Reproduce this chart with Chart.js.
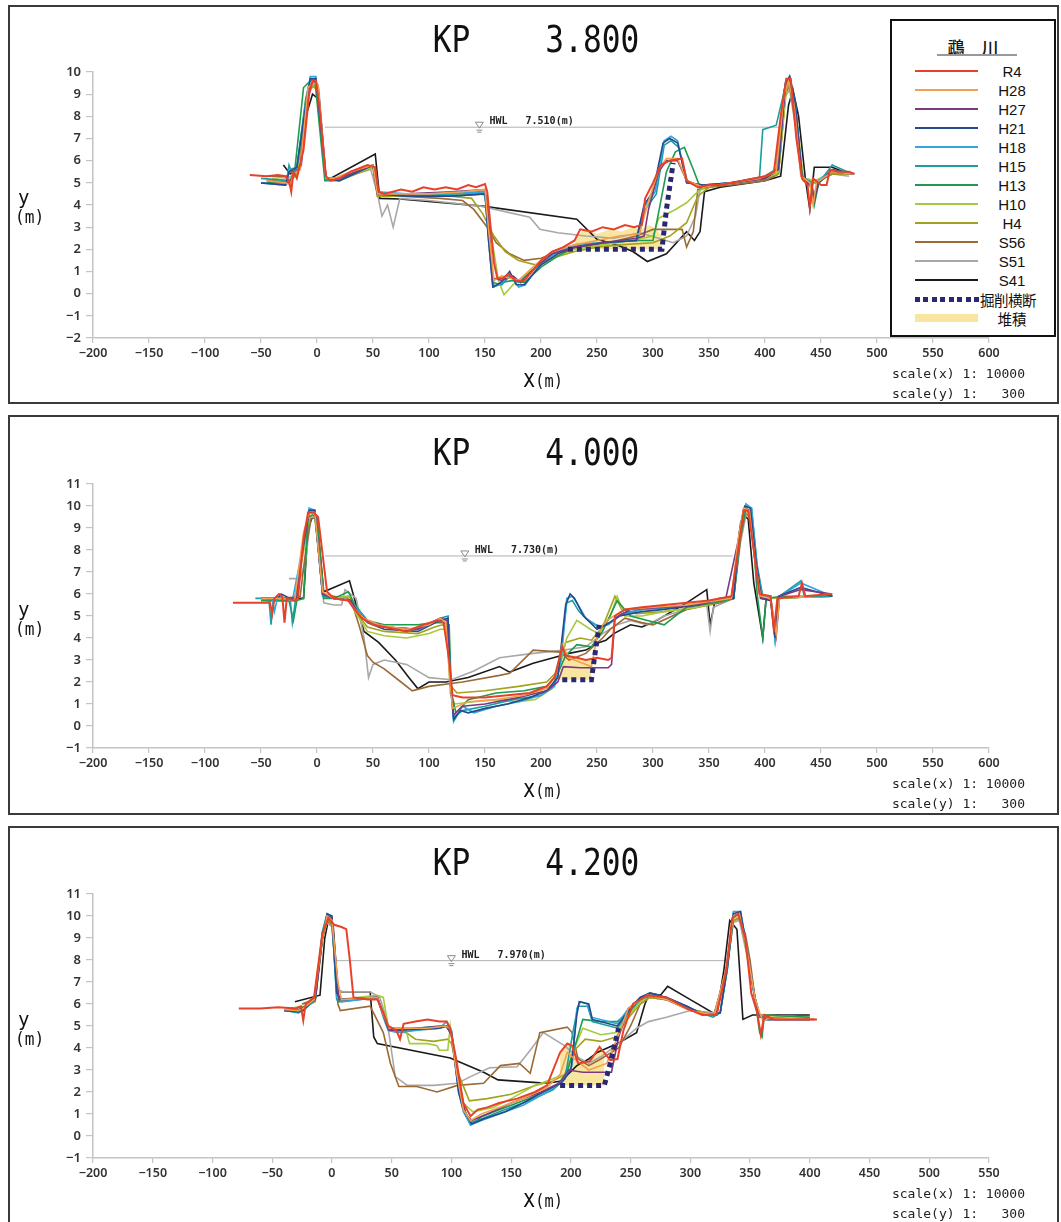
<!DOCTYPE html>
<html><head><meta charset="utf-8">
<script src="https://cdn.jsdelivr.net/npm/chart.js@4.4.0/dist/chart.umd.min.js"></script>
<style>
body{margin:0;background:#fff;width:1061px;height:1222px;position:relative;overflow:hidden;font-family:'Noto Sans',sans-serif;}
.panel{position:absolute;left:8px;width:1051px;border:2px solid #3a3a3a;box-sizing:border-box;}
canvas{position:absolute;left:0;}
.title{position:absolute;font-family:'DejaVu Sans Mono',monospace;font-size:38px;white-space:pre;transform:translate(-50%,-50%) scaleX(0.82);color:#111;line-height:1;}
.xl{position:absolute;font-family:'DejaVu Sans Mono',monospace;color:#111;white-space:pre;transform:translate(-50%,-50%) scaleX(0.85);line-height:1;}
.yl{position:absolute;font-family:'DejaVu Sans Mono',monospace;color:#111;white-space:pre;line-height:1;}
.sc{position:absolute;right:36px;font-family:'DejaVu Sans Mono',monospace;font-size:13px;color:#222;white-space:pre;line-height:1;transform:translateY(-50%);}
#legend{position:absolute;left:890px;top:19px;width:166px;height:318px;border:2px solid #111;background:#fff;box-sizing:border-box;z-index:5;}
#legend .row{position:absolute;left:0;width:166px;height:19px;}
#legend .smp{position:absolute;left:23px;width:63px;top:8px;height:2px;}
#legend .lab{position:absolute;left:86px;width:68px;text-align:center;top:0;font-family:'Liberation Sans',Arial,sans-serif;font-size:15px;line-height:19px;color:#111;}
</style></head>
<body>
<div class="panel" style="top:5px;height:399px;"></div>
<div class="panel" style="top:415px;height:400px;"></div>
<div class="panel" style="top:826px;height:410px;"></div>

<canvas id="c1" width="1061" height="400" style="top:0px"></canvas>
<canvas id="c2" width="1061" height="400" style="top:410px"></canvas>
<canvas id="c3" width="1061" height="402" style="top:820px"></canvas>

<div id="texts"></div>
<div id="legend"></div>

<script>
// ---------- categories / labels ----------
const seriesNames = ['R4','H28','H27','H21','H18','H15','H13','H10','H4','S56','S51','S41'];
const extraNames = ['掘削横断','堆積'];
const riverName = '鵡　川';
const kpLabels = ['KP    3.800','KP    4.000','KP    4.200'];
const hwlLevels = [7.51, 7.73, 7.97];
const hwlTexts = ['HWL   7.510(m)','HWL   7.730(m)','HWL   7.970(m)'];
const hwlMarkX = [145, 132, 100];
const hwlSpan = [[7,413],[7,371],[4,329]];
const xRanges = [[-200,600],[-200,600],[-200,550]];
const yRanges = [[-2,10],[-1,11],[-1,11]];
const scaleTexts = ['scale(x) 1: 10000','scale(y) 1:   300'];

// ---------- KP 3.800 ----------
const p1_R4 = [[-60,5.35],[-45,5.3],[-35,5.35],[-28,5.3],[-25,5.1],[-23,4.6],[-21,5.5],[-18,5.2],[-12,6.5],[-7,9.0],[-4,9.6],[-1,9.6],[2,8.5],[8,5.3],[12,5.1],[20,5.2],[30,5.5],[45,5.8],[52,5.7],[55,4.6],[60,4.5],[75,4.7],[85,4.6],[95,4.8],[105,4.7],[115,4.8],[125,4.7],[135,4.9],[142,4.8],[150,4.95],[152,4.6],[155,3.0],[158,1.4],[161,0.7],[166,0.7],[171,0.9],[177,0.6],[184,0.55],[192,1.0],[200,1.5],[210,1.9],[220,2.1],[230,2.4],[235,2.9],[245,2.8],[255,3.0],[265,2.9],[275,3.1],[283,3.0],[290,3.1],[293,4.3],[300,5.0],[307,5.8],[315,6.0],[326,6.1],[330,5.1],[340,4.8],[350,4.9],[360,4.9],[370,5.0],[380,5.1],[390,5.2],[400,5.3],[408,5.5],[414,8.0],[419,9.7],[423,9.7],[428,7.0],[433,5.2],[438,4.9],[440,3.9],[443,5.2],[450,4.9],[455,4.9],[458,5.6],[465,5.5],[475,5.5],[480,5.4]];
const p1_H28 = [[-45,5.1],[-28,5.0],[-24,4.9],[-21,5.4],[-15,5.6],[-8,9.3],[-3,9.5],[1,9.4],[8,5.2],[15,5.2],[30,5.5],[50,5.8],[54,4.5],[70,4.5],[100,4.5],[130,4.6],[150,4.7],[153,3.0],[158,0.6],[165,0.8],[172,0.7],[180,0.6],[195,1.3],[210,1.9],[230,2.2],[250,2.4],[270,2.6],[288,2.7],[295,4.0],[305,5.6],[312,6.1],[322,6.1],[330,5.1],[345,4.8],[370,5.0],[395,5.2],[410,5.5],[417,9.0],[421,9.6],[426,8.5],[432,5.3],[440,5.0],[443,4.0],[446,5.0],[460,5.5],[478,5.4]];
const p1_H27 = [[-45,5.1],[-25,5.0],[-20,5.4],[-14,5.8],[-8,9.2],[-3,9.6],[1,9.4],[8,5.2],[20,5.2],[50,5.8],[54,4.5],[80,4.5],[120,4.6],[150,4.7],[153,3.5],[157,0.7],[165,0.6],[175,0.8],[182,0.5],[195,1.2],[210,1.8],[230,2.1],[255,2.3],[285,2.5],[292,2.6],[296,3.8],[305,5.5],[312,6.0],[322,6.0],[330,5.1],[345,4.8],[370,5.0],[400,5.2],[411,5.6],[418,9.2],[422,9.7],[427,8.2],[433,5.2],[441,4.9],[444,4.2],[447,5.0],[460,5.5],[478,5.4]];
const p1_H21 = [[-50,5.0],[-28,4.9],[-25,5.5],[-18,5.7],[-10,8.5],[-6,9.7],[-1,9.7],[8,5.2],[20,5.1],[50,5.8],[54,4.5],[80,4.4],[120,4.4],[150,4.5],[153,2.5],[157,0.3],[164,0.5],[172,1.0],[178,0.4],[185,0.4],[200,1.3],[215,1.8],[230,2.1],[255,2.3],[285,2.4],[292,4.0],[300,4.6],[309,6.8],[315,7.0],[322,6.8],[330,5.0],[345,4.9],[370,5.0],[400,5.2],[412,5.6],[418,9.4],[422,9.8],[427,8.6],[433,5.3],[441,4.8],[444,4.3],[448,5.0],[460,5.6],[478,5.4]];
const p1_H18 = [[-50,5.0],[-28,4.9],[-25,5.6],[-18,5.7],[-10,8.5],[-6,9.8],[-1,9.8],[8,5.2],[20,5.1],[50,5.8],[54,4.6],[80,4.5],[120,4.5],[150,4.6],[153,2.5],[157,0.3],[163,0.4],[172,0.9],[180,0.3],[186,0.4],[200,1.4],[215,1.9],[230,2.2],[255,2.3],[285,2.4],[292,3.9],[302,4.6],[310,6.9],[316,7.1],[322,6.9],[330,5.0],[345,4.9],[370,5.0],[400,5.3],[412,5.7],[418,9.5],[422,9.8],[427,8.6],[433,5.3],[441,4.9],[444,4.4],[448,5.1],[460,5.6],[478,5.4]];
const p1_H15 = [[-50,5.2],[-27,5.1],[-25,5.8],[-22,5.4],[-18,5.7],[-10,8.8],[-6,9.7],[-1,9.6],[8,5.1],[20,5.1],[50,5.8],[54,4.5],[80,4.4],[120,4.4],[150,4.5],[153,2.8],[157,0.5],[165,0.4],[172,0.8],[180,0.5],[200,1.4],[215,1.9],[230,2.2],[255,2.3],[286,2.4],[293,3.8],[303,4.5],[310,6.7],[316,6.9],[323,6.6],[331,5.0],[345,4.9],[370,5.0],[395,5.2],[398,7.4],[410,7.6],[418,9.3],[422,9.7],[427,8.6],[433,5.3],[441,5.0],[444,4.5],[448,5.0],[460,5.8],[478,5.4]];
const p1_H13 = [[-45,5.0],[-25,5.0],[-20,5.5],[-12,9.3],[-6,9.6],[-2,9.7],[7,5.1],[20,5.2],[50,5.8],[54,4.5],[80,4.5],[120,4.5],[150,4.6],[153,2.8],[158,0.3],[165,0.5],[175,0.6],[185,0.5],[200,1.2],[215,1.7],[230,2.1],[255,2.3],[285,2.4],[300,2.4],[304,3.4],[312,5.5],[320,6.4],[328,6.6],[336,5.6],[342,4.8],[370,5.0],[400,5.3],[410,5.6],[417,9.2],[421,9.6],[427,8.4],[433,5.2],[441,4.9],[444,4.0],[448,5.0],[460,5.5],[478,5.4]];
const p1_H10 = [[-40,5.2],[-25,5.1],[-18,5.5],[-10,8.8],[-5,9.5],[0,9.3],[8,5.2],[20,5.2],[50,5.7],[54,4.5],[80,4.4],[120,4.5],[146,4.5],[152,4.4],[156,2.5],[162,0.6],[167,-0.05],[175,0.4],[190,1.0],[210,1.6],[230,2.0],[255,2.2],[280,2.4],[300,2.6],[305,3.4],[320,3.8],[330,4.1],[340,4.6],[350,4.9],[370,5.0],[400,5.2],[412,5.5],[419,9.3],[423,9.6],[428,8.0],[434,5.2],[445,5.1],[460,5.5],[475,5.4]];
const p1_H4 = [[-40,5.1],[-25,5.0],[-18,5.4],[-10,8.6],[-5,9.4],[0,9.2],[8,5.2],[20,5.1],[50,5.7],[54,4.4],[80,4.4],[120,4.4],[138,4.3],[148,3.6],[158,2.6],[168,1.9],[180,1.5],[195,1.3],[210,1.6],[230,1.9],[250,2.1],[270,2.2],[300,2.3],[315,2.6],[330,3.2],[340,4.4],[350,4.8],[370,5.0],[400,5.2],[412,5.4],[419,9.2],[423,9.5],[428,8.0],[434,5.1],[445,5.0],[460,5.4],[475,5.4]];
const p1_S56 = [[-45,5.3],[-27,5.3],[-24,5.5],[-15,5.8],[-8,9.3],[-3,9.5],[1,9.3],[8,5.2],[20,5.2],[50,5.7],[54,4.4],[75,4.4],[110,4.3],[130,4.2],[140,3.8],[152,3.0],[160,2.3],[172,1.8],[185,1.5],[200,1.6],[215,1.9],[235,2.1],[260,2.3],[285,2.6],[300,2.9],[326,2.9],[330,2.1],[336,2.8],[340,4.7],[350,4.8],[370,4.9],[400,5.1],[412,5.4],[418,9.0],[422,9.4],[428,7.5],[434,5.2],[445,5.0],[460,5.4],[475,5.4]];
const p1_S51 = [[-40,5.3],[-26,5.2],[-15,5.6],[-8,9.0],[-3,9.4],[2,9.0],[8,5.2],[20,5.2],[48,5.6],[54,4.5],[58,3.5],[63,4.0],[68,3.0],[74,4.3],[100,4.2],[146,3.95],[190,3.45],[199,2.9],[215,2.75],[240,2.6],[265,2.5],[288,2.75],[305,2.5],[318,2.3],[330,2.6],[338,3.5],[342,4.7],[360,4.9],[400,5.1],[412,5.4],[418,8.9],[422,9.2],[428,7.3],[434,5.2],[445,5.1],[460,5.4],[475,5.3]];
const p1_S41 = [[-30,5.8],[-24,5.4],[-18,5.6],[-10,8.0],[-4,9.0],[1,8.8],[8,5.2],[12,5.2],[52,6.3],[56,4.3],[74,4.27],[148,3.95],[232,3.36],[250,2.45],[268,2.2],[282,1.9],[295,1.45],[312,1.8],[330,2.8],[337,2.4],[342,2.8],[346,4.6],[360,4.8],[400,5.1],[414,5.3],[421,8.5],[425,9.2],[430,8.0],[436,5.2],[440,3.8],[444,5.7],[460,5.7],[470,5.5]];
const p1_cut = [[224,2.0],[308,2.0],[312,3.8],[318,5.9]];
const p1_dep = [[228,2.0],[232,2.5],[238,2.9],[250,2.7],[262,2.9],[272,2.8],[282,3.0],[290,2.9],[297,3.1],[303,2.9],[308,2.6],[308,2.0]];

// ---------- KP 4.000 ----------
const p2_R4 = [[-75,5.6],[-42,5.6],[-40,5.1],[-38,5.8],[-34,6.0],[-31,5.9],[-29,4.7],[-27,5.8],[-20,5.7],[-17,5.8],[-12,8.5],[-8,9.7],[-3,9.7],[1,9.5],[9,6.1],[15,5.8],[28,5.7],[32,5.4],[40,4.9],[50,4.6],[60,4.5],[80,4.3],[95,4.6],[108,4.8],[113,4.7],[118,3.0],[121,1.4],[130,1.3],[150,1.3],[170,1.4],[190,1.5],[205,1.8],[212,2.2],[216,3.0],[219,3.6],[222,3.2],[232,3.1],[240,3.0],[250,3.1],[260,3.0],[263,3.1],[266,5.0],[275,5.3],[290,5.4],[310,5.5],[330,5.6],[350,5.7],[370,5.9],[376,8.0],[381,9.8],[385,9.8],[390,8.0],[395,6.0],[405,5.9],[408,4.3],[411,5.8],[430,5.9],[433,6.5],[436,5.9],[460,6.0]];
const p2_H28 = [[-50,5.8],[-30,5.8],[-20,5.7],[-12,8.8],[-7,9.7],[-2,9.7],[5,6.1],[15,5.8],[28,5.7],[34,5.3],[42,4.9],[55,4.6],[80,4.4],[100,4.6],[110,4.9],[115,4.7],[118,2.5],[121,0.8],[135,1.1],[160,1.2],[185,1.4],[205,1.7],[213,2.3],[219,3.7],[225,3.1],[235,2.9],[245,2.7],[250,4.0],[255,4.6],[262,4.9],[275,5.3],[300,5.4],[330,5.5],[355,5.7],[370,5.8],[376,8.5],[381,9.9],[386,9.8],[391,7.5],[396,5.9],[405,5.8],[410,4.2],[413,5.8],[430,5.9],[460,6.0]];
const p2_H27 = [[-50,5.8],[-25,5.8],[-18,5.8],[-12,8.5],[-7,9.7],[-2,9.7],[5,6.0],[15,5.8],[30,5.7],[36,5.2],[45,4.8],[60,4.5],[90,4.4],[110,4.9],[116,4.8],[119,2.0],[122,0.5],[130,0.9],[150,1.0],[180,1.3],[205,1.6],[215,2.0],[220,2.7],[235,2.65],[260,2.65],[263,2.8],[266,4.9],[280,5.3],[310,5.4],[340,5.5],[365,5.8],[376,8.4],[381,9.9],[386,9.8],[391,7.6],[396,5.8],[405,5.8],[410,4.1],[413,5.9],[432,6.2],[460,6.0]];
const p2_H21 = [[-50,5.8],[-35,5.8],[-32,6.0],[-20,5.7],[-12,8.2],[-7,9.8],[-2,9.8],[5,6.0],[15,5.8],[30,5.7],[36,5.2],[45,4.7],[60,4.4],[90,4.3],[110,4.8],[117,4.9],[119,2.0],[122,0.3],[128,0.7],[135,0.6],[150,0.8],[170,1.0],[190,1.3],[205,1.6],[215,2.2],[222,5.5],[226,6.0],[230,5.8],[238,5.0],[250,4.4],[258,4.6],[270,5.0],[290,5.2],[310,5.3],[340,5.5],[360,5.8],[372,5.8],[377,8.8],[382,10.0],[387,9.9],[392,7.5],[397,5.8],[405,5.7],[409,4.0],[412,5.9],[432,6.3],[460,5.9]];
const p2_H18 = [[-50,5.8],[-40,5.8],[-38,5.2],[-35,5.9],[-22,5.7],[-12,8.3],[-7,9.9],[-2,9.8],[5,6.0],[15,5.8],[30,5.7],[36,5.3],[45,4.8],[60,4.5],[90,4.4],[110,4.8],[117,4.9],[119,2.0],[122,0.2],[130,0.9],[140,0.6],[160,0.9],[180,1.1],[200,1.4],[212,1.8],[218,3.0],[223,5.8],[228,5.9],[232,5.6],[240,4.9],[252,4.5],[260,4.6],[270,5.0],[290,5.3],[310,5.4],[340,5.5],[360,5.8],[372,5.9],[378,9.0],[383,10.1],[388,9.9],[393,7.2],[398,5.8],[405,5.9],[409,3.9],[413,5.9],[432,6.5],[460,5.9]];
const p2_H15 = [[-55,5.8],[-43,5.8],[-41,4.6],[-39,5.8],[-24,5.8],[-22,4.7],[-19,5.8],[-12,8.5],[-7,9.8],[-2,9.8],[5,5.9],[15,5.8],[30,5.7],[36,5.3],[45,4.8],[60,4.5],[90,4.4],[110,4.9],[117,5.0],[119,2.2],[122,0.4],[130,0.7],[150,0.9],[175,1.2],[200,1.4],[212,1.9],[218,3.5],[223,5.6],[228,5.7],[234,5.2],[242,4.8],[252,4.5],[262,4.7],[272,5.1],[290,5.3],[320,5.4],[345,5.6],[362,5.8],[372,5.9],[378,9.2],[383,10.0],[388,9.9],[393,7.3],[398,5.9],[405,5.8],[409,3.9],[413,5.9],[432,6.6],[435,5.9],[460,5.9]];
const p2_H13 = [[-50,5.7],[-25,5.7],[-21,4.8],[-18,5.7],[-12,5.8],[-8,9.5],[-4,9.6],[0,9.5],[6,5.8],[15,5.8],[28,6.1],[34,5.5],[45,4.8],[60,4.6],[90,4.6],[105,4.7],[112,4.7],[118,4.6],[120,1.5],[124,0.6],[135,1.2],[160,1.5],[185,1.6],[205,1.8],[215,2.4],[222,3.2],[232,3.7],[245,3.6],[255,4.3],[268,5.7],[280,5.0],[295,4.8],[310,4.6],[330,5.4],[355,5.6],[372,5.8],[378,8.6],[383,9.9],[388,9.7],[393,6.0],[398,4.0],[401,5.8],[415,5.9],[460,5.9]];
const p2_H10 = [[-45,5.7],[-20,5.7],[-12,8.0],[-7,9.5],[-2,9.5],[6,5.9],[15,5.8],[28,5.9],[34,5.2],[45,4.3],[60,4.1],[80,4.0],[100,4.2],[110,4.4],[116,4.4],[119,1.5],[123,1.0],[140,1.1],[160,1.2],[180,1.1],[195,1.2],[210,1.7],[218,3.0],[223,4.0],[232,4.8],[244,4.4],[252,4.2],[262,5.0],[268,5.9],[275,5.0],[290,5.0],[310,5.2],[340,5.4],[370,5.8],[377,8.5],[382,9.8],[387,9.6],[392,7.0],[397,5.8],[460,5.9]];
const p2_H4 = [[-45,5.7],[-20,5.7],[-12,8.0],[-7,9.5],[-2,9.5],[6,5.9],[15,5.8],[28,5.9],[34,5.2],[45,4.5],[60,4.3],[90,4.2],[105,4.5],[112,4.6],[116,4.5],[120,1.8],[125,1.5],[150,1.6],[180,1.8],[205,2.0],[215,2.5],[222,3.8],[235,4.0],[245,3.9],[255,4.5],[266,5.9],[272,5.3],[285,5.1],[310,5.2],[340,5.4],[370,5.8],[377,8.3],[382,9.7],[387,9.5],[392,7.0],[397,5.8],[460,5.9]];
const p2_S56 = [[-30,5.8],[-15,5.9],[-10,8.0],[-5,9.5],[0,9.4],[6,6.0],[15,5.9],[30,5.8],[38,4.5],[45,3.2],[50,2.9],[60,2.6],[75,2.0],[85,1.6],[100,1.8],[130,2.0],[163,2.3],[172,2.4],[193,3.45],[217,3.36],[225,3.0],[240,3.3],[255,4.0],[262,4.4],[275,4.9],[290,4.7],[300,4.6],[330,5.3],[360,5.6],[372,5.8],[378,8.5],[383,9.8],[388,9.6],[393,7.0],[398,5.8],[460,5.9]];
const p2_S51 = [[-25,6.7],[-15,6.7],[-10,7.5],[-6,9.5],[-1,9.5],[6,5.6],[15,5.5],[22,5.5],[25,6.2],[35,5.8],[42,4.0],[46,2.2],[50,2.8],[60,3.0],[80,2.8],[100,2.2],[120,2.1],[140,2.5],[163,3.1],[193,3.3],[220,3.45],[240,3.6],[255,4.2],[268,4.6],[280,4.8],[295,4.6],[310,5.0],[330,5.3],[348,5.5],[351,4.3],[354,5.4],[372,5.8],[378,8.3],[383,9.6],[388,9.4],[393,7.0],[398,5.8],[460,5.9]];
const p2_S41 = [[-20,5.8],[-12,5.8],[-8,9.0],[-4,9.5],[0,9.4],[6,6.1],[15,6.3],[29,6.6],[35,5.5],[42,4.3],[55,3.8],[70,3.0],[82,2.2],[90,1.7],[100,2.0],[115,2.0],[135,2.2],[163,2.7],[172,2.45],[193,2.85],[211,3.1],[225,3.3],[240,3.45],[252,3.8],[258,3.9],[265,4.2],[280,4.6],[290,4.5],[300,4.7],[330,5.6],[348,6.2],[351,4.6],[355,5.6],[372,5.8],[377,8.5],[381,9.6],[385,9.4],[390,6.5],[398,4.0],[401,5.8],[460,5.9]];
const p2_cut = [[219,2.1],[245,2.1],[248,3.2],[252,4.6]];
const p2_dep = [[213,2.1],[216,3.0],[219,3.6],[222,3.2],[232,3.1],[240,3.0],[245,3.0],[245,2.1]];

// ---------- KP 4.200 ----------
const p3_R4 = [[-78,5.8],[-60,5.8],[-45,5.85],[-30,5.8],[-26,5.9],[-24,5.25],[-22,6.0],[-15,6.3],[-8,9.2],[-3,9.9],[2,9.6],[8,9.5],[12,9.4],[15,8.0],[18,6.3],[30,6.2],[38,6.2],[43,5.6],[47,5.0],[54,4.8],[57,4.4],[60,5.1],[70,5.2],[80,5.3],[90,5.2],[96,5.2],[99,4.9],[104,3.5],[110,1.5],[116,0.9],[122,1.2],[130,1.3],[140,1.5],[155,1.7],[170,2.0],[180,2.3],[191,3.8],[197,4.2],[201,4.1],[206,3.3],[216,3.4],[224,4.05],[233,3.45],[239,3.5],[244,4.8],[252,6.0],[264,6.4],[280,6.3],[297,5.8],[310,5.5],[322,5.5],[330,7.5],[335,9.9],[340,10.1],[346,9.0],[351,6.5],[356,5.6],[359,4.6],[362,5.5],[370,5.3],[390,5.3],[406,5.3]];
const p3_H28 = [[-40,5.75],[-28,5.7],[-24,5.8],[-15,6.2],[-8,9.0],[-4,10.0],[0,9.8],[5,7.0],[8,6.2],[38,6.3],[43,5.5],[48,4.9],[60,4.9],[80,4.9],[95,5.0],[99,4.9],[104,3.0],[110,1.2],[116,0.7],[125,1.0],[140,1.3],[160,1.7],[180,2.2],[191,2.8],[197,3.8],[203,3.5],[215,3.0],[230,3.3],[240,4.6],[248,5.8],[264,6.4],[280,6.2],[300,5.7],[320,5.5],[330,7.6],[336,10.0],[341,10.1],[347,8.6],[354,6.3],[358,5.6],[361,5.2],[365,5.35],[404,5.3]];
const p3_H27 = [[-40,5.75],[-28,5.7],[-22,5.9],[-14,6.2],[-8,9.0],[-4,10.0],[0,9.9],[6,6.2],[38,6.3],[43,5.5],[48,4.8],[70,4.9],[95,5.0],[100,4.7],[106,2.5],[112,1.0],[117,0.7],[130,1.0],[150,1.5],[175,2.0],[190,2.4],[198,3.0],[210,2.9],[225,2.9],[234,2.9],[240,4.5],[248,5.8],[264,6.4],[280,6.2],[300,5.7],[320,5.5],[330,7.6],[336,10.0],[341,10.1],[347,8.6],[354,6.3],[358,5.5],[362,5.3],[404,5.3]];
const p3_H21 = [[-40,5.7],[-28,5.65],[-24,5.7],[-14,6.3],[-8,9.0],[-4,10.1],[0,10.0],[4,6.5],[8,6.2],[38,6.3],[43,5.5],[47,4.9],[54,4.8],[70,4.85],[90,4.9],[96,5.0],[100,4.6],[106,2.0],[110,1.2],[117,0.55],[128,0.8],[145,1.1],[160,1.5],[180,2.1],[192,2.4],[200,3.0],[205,5.5],[207,6.1],[215,6.0],[218,5.3],[239,5.0],[247,5.6],[258,6.3],[266,6.5],[280,6.3],[297,5.9],[308,5.6],[319,5.5],[325,5.6],[331,7.7],[336,10.1],[342,10.2],[347,8.6],[354,6.3],[358,5.5],[362,5.3],[400,5.3]];
const p3_H18 = [[-40,5.7],[-28,5.65],[-24,5.7],[-14,6.3],[-8,9.2],[-4,10.1],[0,10.0],[4,6.3],[8,6.1],[38,6.3],[43,5.4],[47,4.8],[55,4.7],[70,4.8],[90,4.9],[96,5.2],[100,4.8],[106,2.0],[110,1.1],[116,0.5],[125,0.7],[140,1.0],[160,1.4],[180,2.0],[193,2.5],[201,3.2],[205,5.8],[208,6.1],[214,6.0],[217,5.4],[239,5.1],[247,5.7],[258,6.3],[266,6.5],[280,6.3],[297,5.9],[308,5.6],[319,5.5],[325,5.6],[331,7.8],[336,10.2],[342,10.2],[347,8.7],[354,6.2],[358,5.5],[362,5.3],[400,5.3]];
const p3_H15 = [[-38,5.7],[-28,5.6],[-22,5.8],[-14,6.2],[-8,9.3],[-4,10.1],[0,9.9],[4,6.2],[38,6.3],[43,5.5],[47,4.9],[70,4.85],[90,4.9],[96,5.0],[100,4.6],[105,2.6],[109,1.4],[116,0.6],[126,0.8],[145,1.2],[165,1.6],[185,2.1],[195,2.6],[202,4.8],[206,5.9],[214,5.9],[218,5.2],[239,4.9],[247,5.5],[258,6.2],[266,6.4],[280,6.3],[297,5.9],[308,5.6],[319,5.4],[325,5.6],[331,7.6],[336,10.0],[342,10.1],[347,8.6],[354,6.3],[358,5.5],[362,5.3],[400,5.3]];
const p3_H13 = [[-38,5.75],[-28,5.75],[-22,5.9],[-14,6.2],[-8,9.2],[-4,10.0],[0,9.9],[5,6.1],[38,6.3],[43,5.6],[48,4.9],[70,4.9],[90,5.0],[97,5.0],[100,4.8],[106,2.5],[110,1.3],[116,0.5],[126,0.9],[145,1.3],[165,1.7],[185,2.2],[195,2.6],[203,4.0],[210,5.3],[225,5.2],[239,5.2],[247,5.6],[258,6.2],[266,6.4],[280,6.3],[297,5.8],[308,5.6],[319,5.5],[325,5.6],[331,7.6],[336,10.0],[342,10.1],[347,8.6],[354,6.3],[358,4.7],[360,4.5],[362,5.5],[400,5.4]];
const p3_H10 = [[-35,5.8],[-22,5.9],[-14,6.2],[-8,9.0],[-4,9.9],[0,9.8],[5,6.2],[38,6.4],[43,6.3],[47,5.0],[55,4.8],[62,4.8],[65,4.2],[80,4.2],[88,4.1],[90,3.9],[97,3.9],[99,5.0],[103,3.5],[110,1.5],[118,1.1],[135,1.3],[150,1.7],[170,2.3],[185,2.6],[195,2.8],[203,4.0],[210,4.9],[225,4.6],[238,4.7],[247,5.4],[258,6.1],[266,6.4],[280,6.3],[297,5.8],[320,5.5],[330,7.5],[336,9.9],[342,10.0],[347,8.5],[354,6.3],[358,5.5],[400,5.4]];
const p3_H4 = [[-35,5.8],[-22,5.9],[-14,6.1],[-8,8.9],[-4,9.8],[0,9.7],[5,6.2],[38,6.3],[45,5.2],[50,4.8],[62,4.7],[70,4.4],[85,4.3],[97,4.4],[100,4.2],[106,2.8],[115,1.6],[130,1.7],[150,1.9],[170,2.3],[185,2.5],[195,2.8],[203,3.9],[212,4.4],[225,4.3],[238,4.5],[247,5.3],[258,6.0],[266,6.3],[280,6.2],[297,5.8],[320,5.5],[330,7.4],[336,9.8],[342,9.9],[347,8.4],[354,6.3],[358,5.5],[400,5.4]];
const p3_S56 = [[-25,6.0],[-14,6.2],[-8,9.0],[-4,9.8],[0,9.6],[5,6.0],[7,5.7],[32,5.9],[43,4.7],[49,3.3],[56,2.25],[71,2.25],[88,2.0],[105,2.3],[127,2.4],[141,3.2],[157,3.3],[166,2.85],[174,4.7],[197,4.95],[201,4.7],[206,3.5],[215,3.2],[225,3.5],[240,4.0],[250,5.0],[258,6.0],[266,6.3],[280,6.2],[297,5.8],[320,5.5],[330,7.4],[336,9.8],[341,9.9],[346,9.2],[350,8.0],[354,6.3],[358,5.4],[400,5.3]];
const p3_S51 = [[-25,6.0],[-14,6.2],[-8,9.0],[-4,9.7],[0,9.5],[5,6.6],[9,6.55],[32,6.55],[40,6.3],[46,5.3],[53,2.7],[63,2.3],[85,2.3],[105,2.4],[116,2.7],[132,3.1],[155,3.15],[166,3.9],[177,4.7],[195,4.1],[205,3.6],[215,3.3],[225,3.6],[240,4.2],[255,4.9],[265,5.2],[280,5.4],[300,5.7],[320,5.6],[330,7.4],[336,9.7],[341,9.8],[347,8.3],[354,6.3],[358,5.4],[400,5.3]];
const p3_S41 = [[-31,6.1],[-10,6.4],[-6,9.0],[-3,9.8],[1,9.6],[5,6.6],[9,6.55],[32,6.55],[35,4.5],[38,4.2],[99,3.55],[127,2.9],[139,2.55],[166,2.45],[180,2.4],[192,2.5],[205,3.2],[215,3.5],[222,3.8],[239,4.2],[255,4.7],[262,6.0],[266,6.5],[275,6.4],[281,6.8],[300,6.2],[322,5.5],[328,7.5],[333,9.8],[339,9.4],[344,5.3],[352,5.5],[400,5.5]];
const p3_cut = [[191,2.3],[228,2.3],[233,3.3],[240,4.9]];
const p3_dep = [[191,2.3],[191,3.8],[197,4.2],[201,4.1],[206,3.3],[216,3.4],[224,4.05],[228,3.7],[228,2.3]];
const depBase = [2.0, 2.1, 2.3];

const panelSeries = [
  [p1_R4,p1_H28,p1_H27,p1_H21,p1_H18,p1_H15,p1_H13,p1_H10,p1_H4,p1_S56,p1_S51,p1_S41],
  [p2_R4,p2_H28,p2_H27,p2_H21,p2_H18,p2_H15,p2_H13,p2_H10,p2_H4,p2_S56,p2_S51,p2_S41],
  [p3_R4,p3_H28,p3_H27,p3_H21,p3_H18,p3_H15,p3_H13,p3_H10,p3_H4,p3_S56,p3_S51,p3_S41]
];
const panelCut = [p1_cut,p2_cut,p3_cut];
const panelDep = [p1_dep,p2_dep,p3_dep];

// ---------- styles ----------
const colors = ['#e8412a','#f2a04e','#7b3a80','#274a8c','#2ea6de','#1a9e9e','#1f9a4e','#a6c93e','#a3a21c','#9b6a35','#a8a8a8','#1a1a1a'];
const cutColor = '#2b2870', depColor = '#f8e6a0';
const canvasTops = [0,410,820];
const axisBottoms = [338,338,338];   // inside each canvas
const plotTops = [72,74,74];

const toXY = a => a.map(p => ({x:p[0], y:p[1]}));

const hwlPlugin = {
  id:'hwlMark',
  afterDatasetsDraw(chart, args, opts){
    const ctx = chart.ctx, xs = chart.scales.x, ys = chart.scales.y;
    const px = xs.getPixelForValue(opts.x), py = ys.getPixelForValue(opts.level);
    ctx.save();
    ctx.strokeStyle = '#8a8a8a'; ctx.lineWidth = 1;
    ctx.beginPath(); ctx.moveTo(px-4,py-5); ctx.lineTo(px+4,py-5); ctx.lineTo(px,py+1); ctx.closePath(); ctx.stroke();
    ctx.beginPath(); ctx.moveTo(px-3,py+3); ctx.lineTo(px+3,py+3); ctx.moveTo(px-2,py+5); ctx.lineTo(px+2,py+5); ctx.stroke();
    ctx.fillStyle = '#222'; ctx.font = 'bold 10px "DejaVu Sans Mono"'; ctx.textBaseline = 'alphabetic';
    ctx.fillText(opts.text, px+10, py-3);
    ctx.restore();
  }
};

function buildChart(i){
  const ds = [];
  ds.push({label:extraNames[0], data:toXY(panelCut[i]), borderColor:cutColor, borderWidth:5, borderDash:[5,4], borderCapStyle:'butt', pointRadius:0, showLine:true, order:0, fill:false});
  panelSeries[i].forEach((s,k)=>{
    ds.push({label:seriesNames[k], data:toXY(s), borderColor:colors[k], borderWidth:(k===0?2:1.6), pointRadius:0, showLine:true, order:1+k, fill:false, tension:0});
  });
  ds.push({label:'HWL', data:toXY([[hwlSpan[i][0],hwlLevels[i]],[hwlSpan[i][1],hwlLevels[i]]]), borderColor:'#b0b0b0', borderWidth:1, pointRadius:0, showLine:true, order:20, fill:false});
  ds.push({label:extraNames[1], data:toXY(panelDep[i]), borderColor:'rgba(0,0,0,0)', borderWidth:0, backgroundColor:depColor, pointRadius:0, showLine:true, order:30, fill:{value:depBase[i]}});
  const H = document.getElementById('c'+(i+1)).height;
  return new Chart(document.getElementById('c'+(i+1)), {
    type:'scatter',
    data:{datasets:ds},
    plugins:[hwlPlugin],
    options:{
      responsive:false, animation:false, devicePixelRatio:1,
      layout:{padding:{left:0,right:72,top:plotTops[i],bottom:0}},
      plugins:{legend:{display:false}, tooltip:{enabled:false},
        hwlMark:{x:hwlMarkX[i], level:hwlLevels[i], text:hwlTexts[i]}},
      scales:{
        x:{type:'linear', min:xRanges[i][0], max:xRanges[i][1],
           afterFit:s=>{s.height = H - axisBottoms[i];},
           ticks:{stepSize:50, autoSkip:false, maxRotation:0, padding:3, color:'#333', font:{family:'Noto Sans', size:12.5, weight:'600'},
             callback:v=> v<0 ? '\u2212'+Math.abs(v) : String(v)},
           grid:{drawOnChartArea:false, drawTicks:true, tickLength:5, color:'#c4c4c4', lineWidth:1.2},
           border:{display:true, color:'#c4c4c4', width:1.5}},
        y:{type:'linear', min:yRanges[i][0], max:yRanges[i][1],
           afterFit:s=>{s.width = 93;},
           ticks:{stepSize:1, autoSkip:false, padding:5, color:'#333', font:{family:'Noto Sans', size:13, weight:'600'},
             callback:v=> v<0 ? '\u2212'+Math.abs(v) : String(v)},
           grid:{drawOnChartArea:false, drawTicks:true, tickLength:7, color:'#c4c4c4', lineWidth:1.2},
           border:{display:true, color:'#c4c4c4', width:1.5}}
      }
    }
  });
}
[0,1,2].forEach(buildChart);

// ---------- texts ----------
const T = document.getElementById('texts');
function addDiv(cls, html, style){ const d=document.createElement('div'); d.className=cls; d.innerHTML=html; d.setAttribute('style',style); T.appendChild(d); return d; }
const titleY = [39,452,862];
kpLabels.forEach((t,i)=>{
  addDiv('title', t, `left:536px;top:${titleY[i]}px;`);
  const ax = canvasTops[i]+axisBottoms[i];
  addDiv('xl', '<span style="font-size:24px">x</span><span style="font-size:18px">(m)</span>', `left:543px;top:${ax+41}px;`);
  addDiv('sc', scaleTexts[0], `top:${ax+35}px;`);
  addDiv('sc', scaleTexts[1], `top:${ax+55}px;`);
  const yc = canvasTops[i] + [188,190,190][i];
  addDiv('yl', '<span style="font-size:19px">y</span>', `left:18px;top:${yc}px;`);
  addDiv('yl', '<span style="font-size:17px">(m)</span>', `left:15px;top:${yc+21}px;transform:scaleX(0.95);transform-origin:left;`);
});

// ---------- legend ----------
const L = document.getElementById('legend');
L.innerHTML = `<div style="position:absolute;left:0;width:162px;top:16px;text-align:center;font-family:'Noto Sans CJK JP';font-size:17px;line-height:20px;white-space:pre;color:#111;font-weight:500">${riverName}</div>
<div style="position:absolute;left:45px;width:80px;top:33px;height:1.5px;background:#999"></div>`;
const rowTop0 = 41;
seriesNames.forEach((n,k)=>{
  const r=document.createElement('div'); r.className='row'; r.style.top=(rowTop0+k*19)+'px';
  r.innerHTML=`<div class="smp" style="background:${colors[k]}"></div><div class="lab">${n}</div>`;
  L.appendChild(r);
});
{
  const r=document.createElement('div'); r.className='row'; r.style.top=(rowTop0+12*19)+'px';
  r.innerHTML=`<div class="smp" style="top:7px;height:5px;width:66px;background:repeating-linear-gradient(to right, ${cutColor} 0 5px, transparent 5px 8.5px)"></div><div class="lab" style="left:88px;width:70px;font-family:'Noto Sans CJK JP';font-size:14.5px;letter-spacing:-0.5px;text-align:left">${extraNames[0]}</div>`;
  L.appendChild(r);
  const r2=document.createElement('div'); r2.className='row'; r2.style.top=(rowTop0+13*19)+'px';
  r2.innerHTML=`<div class="smp" style="top:5px;height:8px;background:${depColor}"></div><div class="lab" style="font-family:'Noto Sans CJK JP';font-size:14.5px">${extraNames[1]}</div>`;
  L.appendChild(r2);
}
</script>
</body></html>
